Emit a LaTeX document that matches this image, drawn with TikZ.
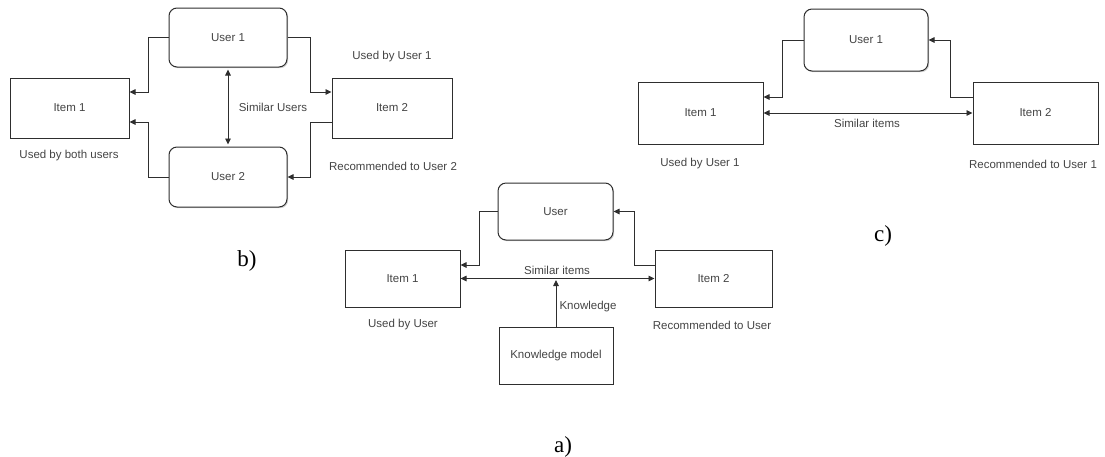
\documentclass[tikz,border=0pt]{standalone}
\usepackage{fontspec}
\setmainfont{Liberation Sans}
\newfontfamily\capfont{Liberation Serif}
\usetikzlibrary{arrows.meta,shadows}
\definecolor{txt}{HTML}{444444}
\definecolor{ln}{HTML}{2E2E2E}
\tikzset{
  itembox/.style={draw=ln, line width=1pt, fill=white, drop shadow={shadow xshift=1.2pt, shadow yshift=-1.2pt, opacity=0.35}, font=\fontsize{11.5}{13}\selectfont, text=txt, inner sep=0pt},
  userbox/.style={itembox, rounded corners=8pt},
  lbl/.style={font=\fontsize{11.5}{13}\selectfont, text=txt, inner sep=0pt},
  caplbl/.style={font=\capfont\fontsize{23}{25}\selectfont, inner sep=0pt},
  arr/.style={draw=ln, line width=0.9pt, -{Triangle[length=6pt,width=5.5pt]}},
  arrtwo/.style={draw=ln, line width=0.9pt, {Triangle[length=6pt,width=5.5pt]}-{Triangle[length=6pt,width=5.5pt]}}
}
\begin{document}
\begin{tikzpicture}[x=1pt,y=-1pt]
\useasboundingbox (0,0) rectangle (1105,456);
% ---------- b) ----------
\node[userbox, minimum width=118pt, minimum height=59pt] (bU1) at (228,37.5) {User 1};
\node[itembox, minimum width=119pt, minimum height=60pt] (bI1) at (69.5,108) {Item 1};
\node[userbox, minimum width=118pt, minimum height=60pt] (bU2) at (228,177) {User 2};
\node[itembox, minimum width=120pt, minimum height=60pt] (bI2) at (392,108) {Item 2};
\draw[arr] (bU1.west) -- ++(-20,0) |- ([yshift=16pt]bI1.east);
\draw[arr] (bU2.west) -- ++(-20,0) |- ([yshift=-14pt]bI1.east);
\draw[arr] (bU1.east) -- ++(23,0) |- ([yshift=16pt]bI2.west);
\draw[arr] ([yshift=-14pt]bI2.west) -- ++(-21,0) |- (bU2.east);
\draw[arrtwo, shorten <=2pt, shorten >=2pt] (bU1.south) -- (bU2.north);
\node[lbl] (bSim) at (273,107) {Similar Users};
\node[lbl] (bUsed) at (69,156) {Used by both users};
\node[lbl] (bUsed2) at (392,57) {Used by User 1};
\node[lbl] (bRec) at (393,166) {Recommended to User 2};
\node[caplbl] (bCap) at (247,261) {b)};
% ---------- a) ----------
\node[userbox, minimum width=115pt, minimum height=57pt] (aU) at (555.5,211.5) {User};
\node[itembox, minimum width=115pt, minimum height=57pt] (aI1) at (402.5,278.5) {Item 1};
\node[itembox, minimum width=117pt, minimum height=57pt] (aI2) at (713.5,278.5) {Item 2};
\node[itembox, minimum width=114pt, minimum height=57pt] (aK) at (556,355.5) {Knowledge model};
\draw[arr] (aU.west) -- ++(-18,0) |- ([yshift=13.5pt]aI1.east);
\draw[arr] ([yshift=13.5pt]aI2.west) -- ++(-20,0) |- (aU.east);
\draw[arrtwo] (aI1.east) -- (aI2.west);
\draw[arr, shorten >=1.5pt] (aK.north) -- (aK.north |- aI1.east);
\node[lbl] (aSim) at (557,270) {Similar items};
\node[lbl] (aKn) at (588,307) {Knowledge};
\node[lbl] (aUsed) at (403,325) {Used by User};
\node[lbl] (aRec) at (712,325) {Recommended to User};
\node[caplbl] (aCap) at (563,447) {a)};
% ---------- c) ----------
\node[userbox, minimum width=124pt, minimum height=62pt] (cU) at (866,40) {User 1};
\node[itembox, minimum width=125pt, minimum height=62pt] (cI1) at (700.5,113) {Item 1};
\node[itembox, minimum width=125pt, minimum height=62pt] (cI2) at (1035.5,113) {Item 2};
\draw[arr] (cU.west) -- ++(-21,0) |- ([yshift=16pt]cI1.east);
\draw[arr] ([yshift=16pt]cI2.west) -- ++(-22,0) |- (cU.east);
\draw[arrtwo] (cI1.east) -- (cI2.west);
\node[lbl] (cSim) at (867,123) {Similar items};
\node[lbl] (cUsed) at (700,164) {Used by User 1};
\node[lbl] (cRec) at (1033,164) {Recommended to User 1};
\node[caplbl] (cCap) at (883,236) {c)};
\end{tikzpicture}
\end{document}
